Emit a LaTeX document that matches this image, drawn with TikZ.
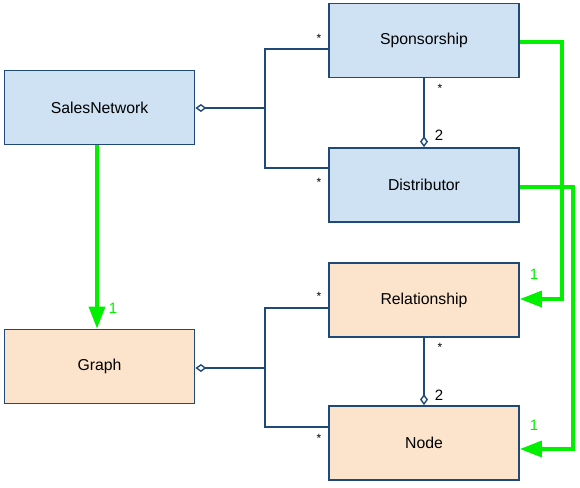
\documentclass[tikz,border=0pt]{standalone}
\usepackage{fontspec}
\setmainfont{Liberation Sans}
\usetikzlibrary{positioning,arrows.meta}

\definecolor{edgeblue}{HTML}{1F4A78}
\definecolor{clsblue}{HTML}{CFE2F3}
\definecolor{clsorange}{HTML}{FCE4CC}
\definecolor{inhgreen}{HTML}{00F000}

\begin{document}
\begin{tikzpicture}[
  x=1pt, y=-1pt,
  font=\fontsize{15.8}{18}\selectfont,
  cls/.style={rectangle, draw=edgeblue, line width=1.8pt, minimum width=190pt, minimum height=74pt, align=center},
  dom/.style={cls, fill=clsblue},
  gra/.style={cls, fill=clsorange},
  agg/.style={draw=edgeblue, line width=1.8pt},
  dia/.style={{Diamond[open, length=11pt, width=8pt, line width=1.4pt]}-},
  inh/.style={draw=inhgreen, line width=3.4pt, -{Triangle[length=22pt, width=16pt]}},
  mult/.style={font=\fontsize{12}{14}\selectfont},
  num/.style={font=\fontsize{15}{18}\selectfont},
  gmult/.style={text=inhgreen, font=\fontsize{15}{18}\selectfont}
]
\useasboundingbox (0,0) rectangle (580,487);
\node[dom] (sales) at (99.5,107.5)  {SalesNetwork};
\node[dom] (spon)  at (424,40.5)    {Sponsorship};
\node[dom] (dist)  at (424,185) {Distributor};
\node[gra] (rel)   at (424,300) {Relationship};
\node[gra] (graph) at (99.5,366.5)  {Graph};
\node[gra] (node)  at (424,443) {Node};
% aggregations
\coordinate (j1) at (265,108);
\coordinate (j2) at (265,368);
\draw[agg, dia] (sales.east |- j1) -- (j1);
\draw[agg] (spon.west |- 0,49) -| (j1) |- (dist.west |- 0,168);
\draw[agg, dia] (dist.north) -- (spon.south);
\draw[agg, dia] (graph.east |- j2) -- (j2);
\draw[agg] (rel.west |- 0,308) -| (j2) |- (node.west |- 0,427);
\draw[agg, dia] (node.north) -- (rel.south);
\node[mult] (m1) at (319,38)  {*};
\node[mult] (m2) at (319,182) {*};
\node[mult] (m3) at (440,88)  {*};
\node[num]  (m4) at (439,135) {2};
\node[mult] (m5) at (319,296) {*};
\node[mult] (m6) at (319,438) {*};
\node[mult] (m7) at (440,347) {*};
\node[num]  (m8) at (439,395) {2};
% generalisations
\draw[inh] (sales.south -| 97,0) -- (graph.north -| 97,0);
\draw[inh] (spon.east |- 0,42) -| (562,299) -- (rel.east |- 0,299);
\draw[inh] (dist.east |- 0,187) -| (573,449) -- (node.east |- 0,449);
\node[gmult] (g1) at (113,308) {1};
\node[gmult] (g2) at (534,274) {1};
\node[gmult] (g3) at (534,425) {1};
\end{tikzpicture}
\end{document}
